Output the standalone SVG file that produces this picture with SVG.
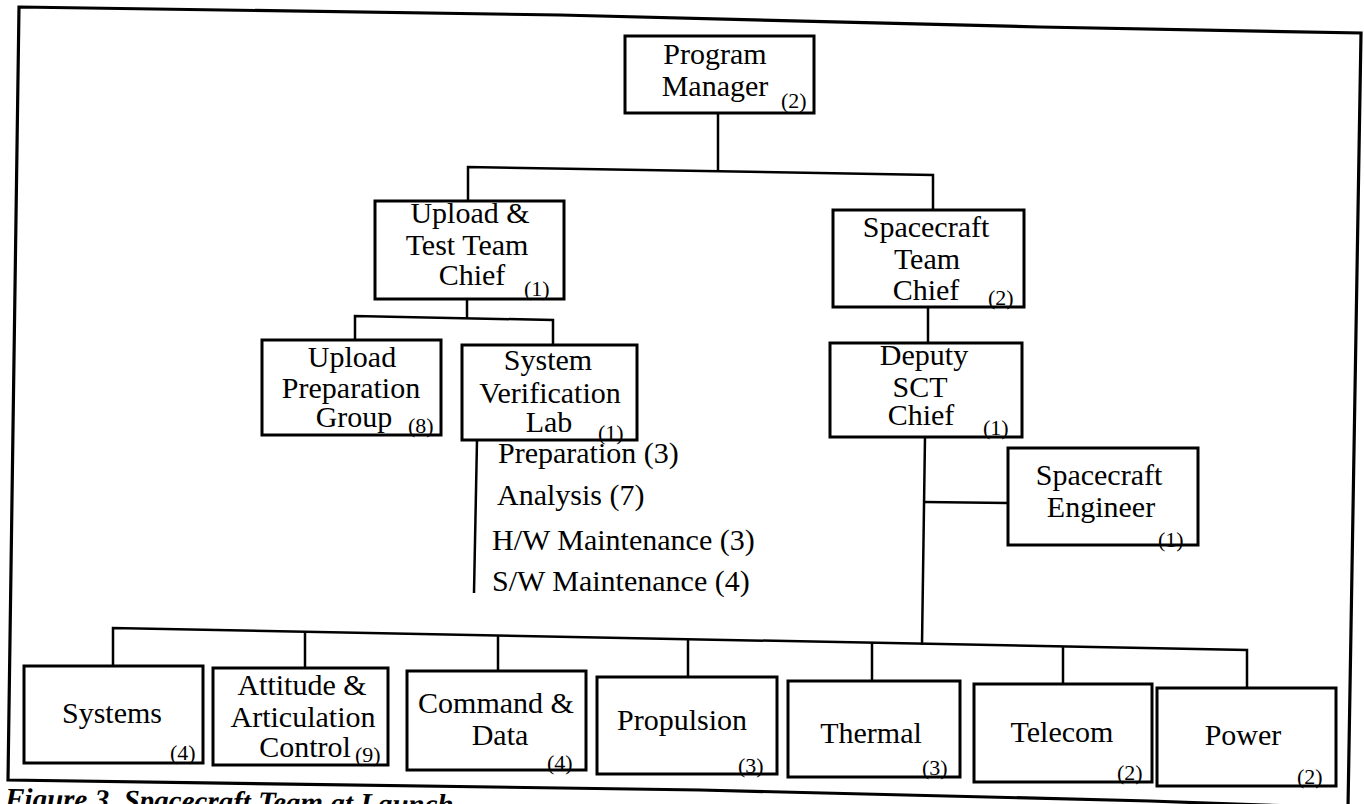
<svg xmlns="http://www.w3.org/2000/svg" width="1364" height="804" viewBox="0 0 1364 804">
<style>
.box{fill:#fff;stroke:#000;stroke-width:3}
.ln{fill:none;stroke:#000;stroke-width:2.5}
.frame{fill:none;stroke:#000;stroke-width:3.2}
text{font-family:"Liberation Serif","Times New Roman",serif;fill:#000}
.t{font-size:30px;text-anchor:middle}
.l{font-size:30px}
.n{font-size:22px}
.cap{font-size:29px;font-weight:bold;font-style:italic}
</style>
<rect x="0" y="0" width="1364" height="804" fill="#fff"/>
<path class="frame" d="M19,7 L560,15 L1040,27 L1361,33 L1348,808 L1150,801 L700,790 L8,780 Z"/>
<g id="connectors">
<line class="ln" x1="718" y1="113" x2="718" y2="171"/>
<polyline class="ln" points="468,201 468,167 933,175 933,210"/>
<line class="ln" x1="467" y1="299" x2="467" y2="318"/>
<polyline class="ln" points="355,340 355,316 553,320 553,345"/>
<line class="ln" x1="928" y1="307" x2="928" y2="343"/>
<line class="ln" x1="925" y1="437" x2="922" y2="645"/>
<line class="ln" x1="924" y1="502" x2="1008" y2="503"/>
<line class="ln" x1="477" y1="440" x2="474" y2="593"/>
<polyline class="ln" points="113,666 113,628 1247,650 1247,688"/>
<line class="ln" x1="305" y1="632" x2="305" y2="668"/>
<line class="ln" x1="498" y1="635" x2="498" y2="671"/>
<line class="ln" x1="688" y1="639" x2="688" y2="677"/>
<line class="ln" x1="872" y1="643" x2="872" y2="681"/>
<line class="ln" x1="1063" y1="646" x2="1063" y2="684"/>
</g>
<g id="program-manager">
<rect class="box" x="625" y="36" width="189" height="77"/>
<text class="t" x="715" y="64">Program</text>
<text class="t" x="715" y="96">Manager</text>
<text class="n" x="781" y="108">(2)</text>
</g>
<g id="upload-test">
<rect class="box" x="375" y="201" width="189" height="98"/>
<text class="t" x="470" y="223">Upload &amp;</text>
<text class="t" x="467" y="255">Test Team</text>
<text class="t" x="472" y="285">Chief</text>
<text class="n" x="524" y="296">(1)</text>
</g>
<g id="spacecraft-team-chief">
<rect class="box" x="833" y="210" width="191" height="97"/>
<text class="t" x="926" y="237">Spacecraft</text>
<text class="t" x="927" y="269">Team</text>
<text class="t" x="926" y="300">Chief</text>
<text class="n" x="988" y="305">(2)</text>
</g>
<g id="upload-preparation">
<rect class="box" x="262" y="340" width="179" height="95"/>
<text class="t" x="352" y="367">Upload</text>
<text class="t" x="351" y="398">Preparation</text>
<text class="t" x="354" y="427">Group</text>
<text class="n" x="408" y="433">(8)</text>
</g>
<g id="system-verification">
<rect class="box" x="462" y="345" width="175" height="95"/>
<text class="t" x="548" y="370">System</text>
<text class="t" x="550" y="403">Verification</text>
<text class="t" x="549" y="432">Lab</text>
<text class="n" x="598" y="440">(1)</text>
<text class="l" x="498" y="463">Preparation (3)</text>
<text class="l" x="497" y="505">Analysis (7)</text>
<text class="l" x="492" y="550">H/W Maintenance (3)</text>
<text class="l" x="492" y="591">S/W Maintenance (4)</text>
</g>
<g id="deputy-sct-chief">
<rect class="box" x="830" y="343" width="192" height="94"/>
<text class="t" x="924" y="365">Deputy</text>
<text class="t" x="920" y="397">SCT</text>
<text class="t" x="921" y="425">Chief</text>
<text class="n" x="983" y="435">(1)</text>
</g>
<g id="spacecraft-engineer">
<rect class="box" x="1008" y="448" width="190" height="97"/>
<text class="t" x="1099" y="485">Spacecraft</text>
<text class="t" x="1101" y="517">Engineer</text>
<text class="n" x="1158" y="547">(1)</text>
</g>
<g id="systems">
<rect class="box" x="24" y="666" width="179" height="97"/>
<text class="t" x="112" y="723">Systems</text>
<text class="n" x="170" y="760">(4)</text>
</g>
<g id="attitude">
<rect class="box" x="213" y="668" width="175" height="97"/>
<text class="t" x="302" y="695">Attitude &amp;</text>
<text class="t" x="303" y="727">Articulation</text>
<text class="t" x="305" y="757">Control</text>
<text class="n" x="355" y="762">(9)</text>
</g>
<g id="command-data">
<rect class="box" x="407" y="671" width="179" height="99"/>
<text class="t" x="496" y="713">Command &amp;</text>
<text class="t" x="500" y="745">Data</text>
<text class="n" x="547" y="770">(4)</text>
</g>
<g id="propulsion">
<rect class="box" x="597" y="677" width="180" height="97"/>
<text class="t" x="682" y="730">Propulsion</text>
<text class="n" x="738" y="773">(3)</text>
</g>
<g id="thermal">
<rect class="box" x="788" y="681" width="172" height="96"/>
<text class="t" x="871" y="743">Thermal</text>
<text class="n" x="922" y="775">(3)</text>
</g>
<g id="telecom">
<rect class="box" x="974" y="684" width="178" height="98"/>
<text class="t" x="1062" y="742">Telecom</text>
<text class="n" x="1117" y="780">(2)</text>
</g>
<g id="power">
<rect class="box" x="1157" y="688" width="179" height="98"/>
<text class="t" x="1243" y="745">Power</text>
<text class="n" x="1297" y="784">(2)</text>
</g>
<text class="cap" x="5" y="808" transform="rotate(0.8 5 808)">Figure 3.  Spacecraft Team at Launch</text>
</svg>
